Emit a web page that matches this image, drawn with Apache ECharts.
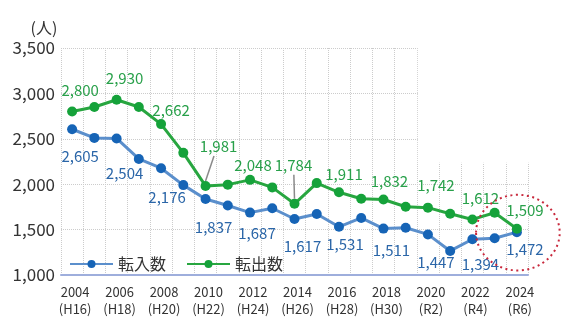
<!DOCTYPE html>
<html>
<head>
<meta charset="utf-8">
<script src="https://cdn.jsdelivr.net/npm/echarts@6/dist/echarts.min.js"></script>
<style>
html,body{margin:0;padding:0;background:#fff;}
#main{width:571px;height:328px;}
</style>
</head>
<body>
<div id="main"></div>
<script>
// ---- data ----
var years = ['2004','2005','2006','2007','2008','2009','2010','2011','2012','2013','2014','2015','2016','2017','2018','2019','2020','2021','2022','2023','2024'];
var eraLabels = {'2004':'H16','2006':'H18','2008':'H20','2010':'H22','2012':'H24','2014':'H26','2016':'H28','2018':'H30','2020':'R2','2022':'R4','2024':'R6'};
var tenNyu = [2605,2510,2504,2278,2176,1990,1837,1765,1687,1735,1617,1672,1531,1628,1511,1520,1447,1265,1394,1405,1472];
var tenShutsu = [2800,2850,2930,2850,2662,2345,1981,1995,2048,1965,1784,2012,1911,1840,1832,1752,1742,1675,1612,1685,1509];
var seriesNames = ['転入数','転出数'];
var yTicks = {min:1000, max:3500, interval:500};

// ---- label placement (style only) ----
var blueOffsets = {'2004':[8,27],'2006':[8,35],'2008':[6,29],'2010':[8,28],'2012':[7,21],'2014':[8,27],'2016':[6,18],'2018':[8,22],'2020':[8,28],'2022':[8,25],'2024':[8,17]};
var greenOffsets = {'2004':[8,-21],'2006':[8,-21],'2008':[10,-14],'2010':[13,-40],'2012':[3,-15],'2014':[-1,-39],'2016':[5,-18],'2018':[6,-18],'2020':[8,-22],'2022':[8,-21],'2024':[8,-18]};
var leaderYears = ['2010','2014'];

var FONT = "'Noto Sans CJK JP','Noto Sans',sans-serif";
var BLUE_LINE = '#5b8fcc', BLUE_DOT = '#1664b6', BLUE_TXT = '#2b66a8';
var GREEN_LINE = '#28a640', GREEN_DOT = '#15a23a', GREEN_TXT = '#28a04a';

function fmt(v){ return v.toLocaleString('en-US'); }

function buildData(vals, offsets, color){
  return vals.map(function(v, i){
    var y = years[i];
    var off = offsets[y];
    var item = {value: v};
    if (off) {
      item.label = {show:true, position:'inside', offset:off, color:color,
                    fontSize:15, fontFamily:FONT, formatter: function(p){ return fmt(p.value); }};
    } else {
      item.label = {show:false};
    }
    return item;
  });
}

var chart = echarts.init(document.getElementById('main'), null, {renderer:'canvas'});
var option = {
  animation:false,
  backgroundColor:'#fff',
  grid:{left:61, right:43, top:48, bottom:53},
  legend:{
    data:seriesNames, left:64, top:251, itemWidth:43, itemHeight:10, itemGap:20,
    textStyle:{fontSize:16, fontFamily:FONT, color:'#333'}
  },
  xAxis:{
    type:'category', data:years, boundaryGap:true,
    axisLine:{lineStyle:{color:'#9eaedc', width:2}},
    axisTick:{show:false},
    axisLabel:{interval:0, margin:9, fontSize:13, lineHeight:17, fontFamily:FONT, color:'#333',
      padding:[0,0,0,6],
      formatter:function(v){ return eraLabels[v] ? v + '\n(' + eraLabels[v] + ')' : ''; }},
    splitLine:{show:true, interval:0, lineStyle:{color:'#cccccc', type:'dotted', width:1}}
  },
  yAxis:{
    type:'value', min:yTicks.min, max:yTicks.max, interval:yTicks.interval,
    name:'(人)', nameLocation:'end', nameGap:12,
    nameTextStyle:{fontSize:16, fontFamily:FONT, color:'#333', align:'center', padding:[0,34,0,0]},
    axisLine:{show:false}, axisTick:{show:false},
    axisLabel:{fontSize:17, fontFamily:FONT, color:'#333', margin:6, formatter:function(v){return fmt(v);}},
    splitLine:{show:true, lineStyle:{color:'#cccccc', type:'dotted', width:1}}
  },
  series:[
    {name:seriesNames[0], type:'line', data:buildData(tenNyu, blueOffsets, BLUE_TXT),
     symbol:'circle', symbolSize:10, lineStyle:{color:BLUE_LINE, width:3}, itemStyle:{color:BLUE_DOT}, z:3},
    {name:seriesNames[1], type:'line', data:buildData(tenShutsu, greenOffsets, GREEN_TXT),
     symbol:'circle', symbolSize:10, lineStyle:{color:GREEN_LINE, width:3}, itemStyle:{color:GREEN_DOT}, z:4}
  ]
};
chart.setOption(option);

// decorations anchored to the data scale
var p19 = chart.convertToPixel({gridIndex:0}, ['2019', 2000]);
var p20 = chart.convertToPixel({gridIndex:0}, ['2020', 2000]);
var pTop = chart.convertToPixel({gridIndex:0}, ['2020', 2235]);
var p24 = chart.convertToPixel({gridIndex:0}, ['2024', 1500]);
var band = p20[0] - p19[0];
var xCut = (p19[0] + p20[0]) / 2;
var graphics = [
  {type:'rect', z:1, silent:true, shape:{x:xCut + 1, y:40, width:571 - xCut, height:pTop[1] - 40},
   style:{fill:'#ffffff'}},
  {type:'ellipse', z:10, silent:true,
   shape:{cx:p24[0] + 1, cy:p24[1] + 3, rx:band * 1.88, ry:band * 1.7},
   style:{fill:null, stroke:'#c8283c', lineWidth:2, lineDash:[2,3.5]}}
];
// leader lines from labels to their points
leaderYears.forEach(function(y){
  var idx = years.indexOf(y);
  var p = chart.convertToPixel({gridIndex:0}, [y, tenShutsu[idx]]);
  var off = greenOffsets[y];
  graphics.push({type:'line', z:5, silent:true,
    shape:{x1:p[0] + off[0] * 0.65, y1:p[1] + off[1] + 10, x2:p[0], y2:p[1] - 5},
    style:{stroke:'#8a8a8a', lineWidth:1.5}});
});
chart.setOption({graphic:graphics});
</script>
</body>
</html>
